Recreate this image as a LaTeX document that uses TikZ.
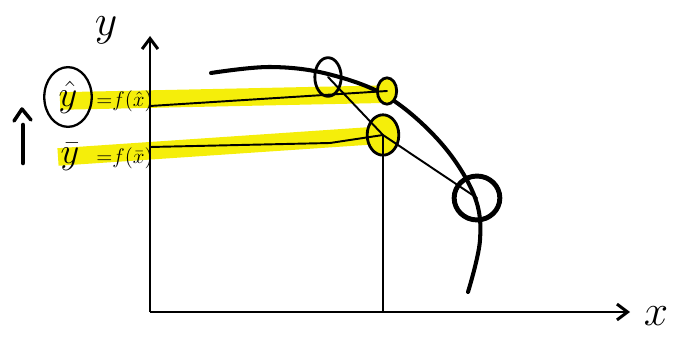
\documentclass[tikz,border=0pt]{standalone}
\usepackage{amsmath}
\usepackage{xcolor}
\usepackage{tikz}
\usetikzlibrary{shapes.geometric, arrows.meta, positioning, backgrounds, calc}
\definecolor{hlyellow}{RGB}{245,238,10}

\begin{document}
\begin{tikzpicture}[
  x=0.02cm, y=-0.02cm,
  axis/.style = {line width=1.7pt, -{Straight Barb[length=6pt, width=9pt]}},
  curv/.style = {line width=2.3pt, line cap=round},
  ring/.style = {ellipse, draw=black, line width=#1, inner sep=0pt},
  lead/.style = {line width=1.1pt, line cap=round},
  band/.style = {line width=10pt, hlyellow},
  lbl/.style  = {inner sep=0pt, font=\fontsize{13}{15}\selectfont},
  big/.style  = {inner sep=0pt, font=\fontsize{#1}{#1}\selectfont},
]
\useasboundingbox (0,0) rectangle (683,348);

% ── Axes ──────────────────────────────────────────────────────────────────────
\coordinate (O)    at (150,312);
\coordinate (ytop) at (150,36);
\coordinate (xend) at (630,312);
\draw[axis] (O) -- (ytop);
\draw[axis] (O) -- (xend);
\node[big=40] (ylab) at (106,30) {$y$};
\node[big=26] (xlab) at (656,316) {$x$};

% ── Curve f ───────────────────────────────────────────────────────────────────
\draw[curv] plot[smooth, tension=0.6] coordinates
  {(211,73) (270,67) (328,74) (388,97) (441,143) (474,195) (480,240) (468,292)};

% ── Points on / near the curve ────────────────────────────────────────────────
\node[ring=1.6pt, minimum width=15pt, minimum height=22pt] (A) at (328,77) {};
\node[ring=1.6pt, fill=hlyellow, minimum width=11pt, minimum height=15pt] (P) at (387,91) {};
\node[ring=1.6pt, fill=hlyellow, minimum width=18pt, minimum height=23pt] (Q) at (383,135) {};
\node[ring=2.8pt, minimum width=26pt, minimum height=25pt] (R) at (477,198) {};

% ── Labels on the left ────────────────────────────────────────────────────────
\node[ring=1.3pt, minimum width=27pt, minimum height=34pt,
      font=\fontsize{20}{22}\selectfont] (yhat) at (68,97) {$\hat y$};
\node[lbl, anchor=west] (eqA) at (96,101) {${=}f(\hat x)$};
\node[big=20] (ybar) at (70,157) {$\bar y$};
\node[lbl, anchor=west] (eqB) at (96,158) {${=}f(\bar x)$};

% hand-drawn up arrow on the far left
\coordinate (upbot) at (23,163);
\coordinate (upmid) at (23,125);
\draw[line width=2.6pt, line cap=round] (upbot) -- (upmid);
\draw[line width=2pt, line cap=round, line join=round]
  ($(upmid)+(-9,-4)$) -- ($(upmid)+(-1,-16)$) -- ($(upmid)+(8,-5)$);

% ── Highlight bands ───────────────────────────────────────────────────────────
\begin{scope}[on background layer]
  \draw[band] (60,101) -- ($(P.center)+(6,3)$);
  \draw[band] (58,157) -- (Q.center);
\end{scope}

% ── Leaders, secant and drop line ─────────────────────────────────────────────
\coordinate (l1) at (150,106);
\coordinate (l2) at (150,147);
\draw[lead] (l1) -- (P.center);
\draw[lead] (l2) -- (330,143) -- (Q.center);
\draw[lead] (A.center) -- (Q.center) -- (R.center);
\draw[line width=0.9pt] (Q.center) -- (Q |- O);

\end{tikzpicture}
\end{document}
